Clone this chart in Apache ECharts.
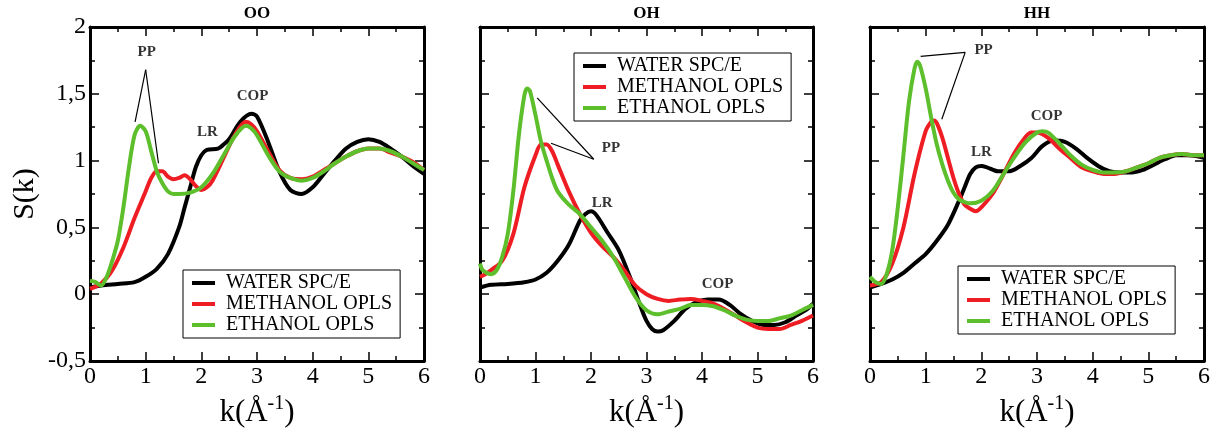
<!DOCTYPE html>
<html>
<head>
<meta charset="utf-8">
<script src="https://cdn.jsdelivr.net/npm/echarts@6/dist/echarts.min.js"></script>
<style>
  html, body { margin: 0; padding: 0; background: #fff; }
  #chart { width: 1222px; height: 436px; }
</style>
</head>
<body>
<div id="chart"></div>
<script>
// S(k) curves, [k, S(k)] pairs
const ooWater = [[0,0.05],[0.2,0.065],[0.5,0.077],[0.8,0.09],[1.0,0.13],[1.2,0.19],[1.4,0.3],[1.6,0.5],[1.7,0.65],[1.8,0.8],[1.9,0.95],[2.0,1.04],[2.1,1.08],[2.3,1.09],[2.4,1.12],[2.5,1.16],[2.7,1.29],[2.9,1.35],[3.0,1.33],[3.2,1.14],[3.4,0.92],[3.6,0.78],[3.8,0.75],[4.0,0.8],[4.2,0.9],[4.4,1.0],[4.6,1.09],[4.8,1.14],[5.0,1.16],[5.2,1.14],[5.4,1.09],[5.6,1.03],[5.8,0.96],[6.0,0.9]]
const ooMethanol = [[0,0.04],[0.2,0.08],[0.4,0.18],[0.6,0.35],[0.8,0.57],[1.0,0.77],[1.1,0.87],[1.2,0.92],[1.3,0.92],[1.4,0.88],[1.5,0.86],[1.6,0.87],[1.7,0.89],[1.8,0.86],[1.9,0.81],[2.0,0.78],[2.1,0.8],[2.2,0.85],[2.4,1.02],[2.6,1.19],[2.8,1.29],[2.9,1.27],[3.0,1.22],[3.2,1.07],[3.4,0.93],[3.6,0.87],[3.8,0.86],[4.0,0.88],[4.2,0.93],[4.4,0.98],[4.6,1.03],[4.8,1.07],[5.0,1.09],[5.2,1.09],[5.4,1.06],[5.6,1.03],[5.8,0.99],[6.0,0.93]]
const ooEthanol = [[0,0.1],[0.1,0.09],[0.2,0.065],[0.3,0.13],[0.4,0.25],[0.5,0.4],[0.6,0.65],[0.7,0.95],[0.8,1.19],[0.9,1.26],[1.0,1.22],[1.1,1.07],[1.2,0.92],[1.3,0.83],[1.4,0.77],[1.5,0.75],[1.6,0.75],[1.8,0.76],[2.0,0.8],[2.2,0.9],[2.4,1.04],[2.6,1.18],[2.8,1.26],[2.9,1.24],[3.0,1.19],[3.2,1.04],[3.4,0.92],[3.6,0.87],[3.8,0.85],[4.0,0.87],[4.2,0.92],[4.4,0.98],[4.6,1.03],[4.8,1.07],[5.0,1.09],[5.2,1.09],[5.4,1.07],[5.6,1.03],[5.8,0.98],[6.0,0.93]]

const ohWater = [[0,0.05],[0.2,0.07],[0.5,0.077],[0.8,0.09],[1.0,0.11],[1.2,0.16],[1.4,0.25],[1.6,0.37],[1.8,0.55],[1.9,0.6],[2.0,0.62],[2.1,0.59],[2.3,0.46],[2.5,0.33],[2.7,0.13],[2.9,-0.1],[3.0,-0.2],[3.1,-0.26],[3.2,-0.28],[3.3,-0.27],[3.5,-0.2],[3.7,-0.11],[3.9,-0.06],[4.1,-0.04],[4.3,-0.04],[4.5,-0.08],[4.7,-0.15],[4.9,-0.2],[5.1,-0.23],[5.3,-0.23],[5.5,-0.21],[5.7,-0.16],[5.9,-0.11],[6.0,-0.07]]
const ohMethanol = [[0,0.13],[0.1,0.15],[0.2,0.18],[0.4,0.25],[0.6,0.45],[0.8,0.8],[1.0,1.04],[1.1,1.12],[1.2,1.12],[1.3,1.07],[1.4,0.97],[1.6,0.77],[1.8,0.6],[2.0,0.46],[2.2,0.36],[2.4,0.28],[2.6,0.18],[2.8,0.065],[3.0,0.0],[3.2,-0.035],[3.4,-0.05],[3.6,-0.04],[3.8,-0.035],[4.0,-0.05],[4.2,-0.07],[4.4,-0.11],[4.6,-0.16],[4.8,-0.21],[5.0,-0.25],[5.2,-0.26],[5.4,-0.26],[5.6,-0.23],[5.8,-0.2],[6.0,-0.16]]
const ohEthanol = [[0,0.23],[0.05,0.18],[0.2,0.15],[0.3,0.18],[0.4,0.28],[0.5,0.45],[0.6,0.77],[0.7,1.19],[0.8,1.49],[0.85,1.54],[0.9,1.52],[1.0,1.34],[1.1,1.14],[1.2,1.0],[1.3,0.87],[1.4,0.77],[1.6,0.67],[1.8,0.6],[2.0,0.5],[2.2,0.4],[2.4,0.28],[2.6,0.13],[2.8,-0.02],[3.0,-0.12],[3.2,-0.15],[3.4,-0.13],[3.6,-0.11],[3.8,-0.08],[4.0,-0.08],[4.2,-0.09],[4.4,-0.12],[4.6,-0.16],[4.8,-0.19],[5.0,-0.2],[5.2,-0.2],[5.4,-0.18],[5.6,-0.16],[5.8,-0.12],[6.0,-0.08]]

const hhWater = [[0,0.05],[0.2,0.077],[0.4,0.11],[0.6,0.16],[0.8,0.23],[1.0,0.3],[1.2,0.4],[1.4,0.52],[1.6,0.7],[1.7,0.8],[1.8,0.9],[1.9,0.95],[2.0,0.96],[2.1,0.95],[2.3,0.92],[2.5,0.92],[2.7,0.96],[2.9,1.02],[3.1,1.11],[3.3,1.15],[3.5,1.14],[3.7,1.09],[3.9,1.02],[4.1,0.96],[4.3,0.92],[4.5,0.91],[4.7,0.91],[4.9,0.93],[5.1,0.97],[5.3,1.01],[5.5,1.04],[5.7,1.04],[5.9,1.03],[6.0,1.02]]
const hhMethanol = [[0,0.065],[0.2,0.09],[0.4,0.23],[0.6,0.5],[0.8,0.9],[1.0,1.22],[1.1,1.29],[1.15,1.3],[1.2,1.28],[1.3,1.17],[1.4,1.02],[1.5,0.87],[1.6,0.75],[1.7,0.67],[1.8,0.64],[1.9,0.62],[2.0,0.65],[2.2,0.75],[2.4,0.9],[2.6,1.06],[2.8,1.18],[2.9,1.21],[3.0,1.21],[3.2,1.17],[3.4,1.09],[3.6,1.02],[3.8,0.95],[4.0,0.92],[4.2,0.9],[4.4,0.9],[4.6,0.92],[4.8,0.95],[5.0,0.98],[5.2,1.02],[5.4,1.04],[5.6,1.05],[5.8,1.04],[6.0,1.04]]
const hhEthanol = [[0,0.13],[0.1,0.09],[0.2,0.077],[0.3,0.15],[0.4,0.33],[0.5,0.65],[0.6,1.04],[0.7,1.44],[0.8,1.69],[0.85,1.74],[0.9,1.71],[1.0,1.54],[1.1,1.32],[1.2,1.12],[1.3,0.97],[1.4,0.85],[1.5,0.76],[1.6,0.71],[1.7,0.69],[1.8,0.68],[2.0,0.7],[2.2,0.77],[2.4,0.9],[2.6,1.03],[2.8,1.14],[3.0,1.21],[3.1,1.22],[3.2,1.21],[3.4,1.13],[3.6,1.04],[3.8,0.97],[4.0,0.93],[4.2,0.91],[4.4,0.91],[4.6,0.92],[4.8,0.95],[5.0,0.98],[5.2,1.02],[5.4,1.04],[5.6,1.05],[5.8,1.04],[6.0,1.04]]

const panelTitles = ['OO', 'OH', 'HH']
const seriesNames = ['WATER SPC/E', 'METHANOL OPLS', 'ETHANOL OPLS']
const seriesColors = ['#000000', '#ee1d23', '#5cbf2b']
const panelData = [
  [ooWater, ooMethanol, ooEthanol],
  [ohWater, ohMethanol, ohEthanol],
  [hhWater, hhMethanol, hhEthanol]
]

// annotation labels [k, S, text] and pointer lines [[k1,S1],[k2,S2]]
const ooLabels = [[1.02, 1.81, 'PP'], [2.11, 1.21, 'LR'], [2.92, 1.48, 'COP']]
const ohLabels = [[2.36, 1.09, 'PP'], [2.2, 0.68, 'LR'], [4.28, 0.077, 'COP']]
const hhLabels = [[2.04, 1.83, 'PP'], [2.0, 1.06, 'LR'], [3.17, 1.33, 'COP']]
const ooPointers = [[[1.0, 1.68], [0.81, 1.29]], [[1.0, 1.68], [1.23, 0.98]]]
const ohPointers = [[[2.05, 1.01], [1.03, 1.47]], [[2.05, 1.01], [1.28, 1.13]]]
const hhPointers = [[[1.71, 1.81], [0.91, 1.78]], [[1.71, 1.81], [1.29, 1.31]]]
const panelLabels = [ooLabels, ohLabels, hhLabels]
const panelPointers = [ooPointers, ohPointers, hhPointers]

const grids = [
  { left: 90, top: 25, width: 334, height: 336 },
  { left: 480, top: 25, width: 333, height: 336 },
  { left: 870, top: 25, width: 334, height: 336 }
]
const legendPos = [
  { left: 183, top: 270 },
  { left: 574, top: 53 },
  { left: 958, top: 266 }
]

const serif = '"Liberation Serif", "DejaVu Serif", serif'
const frame = { show: true, onZero: false, lineStyle: { color: '#000', width: 3 } }

const xAxis = []
const yAxis = []
const series = []
const legend = []

grids.forEach((g, i) => {
  const tick = { show: true, inside: true, length: 9, lineStyle: { color: '#000', width: 1.5 } }
  const minor = { show: true, splitNumber: 2, length: 5, lineStyle: { color: '#000', width: 1.5 } }
  xAxis.push({
    type: 'value', gridIndex: i, min: 0, max: 6, interval: 1, position: 'bottom',
    axisLine: frame, axisTick: tick, minorTick: minor, splitLine: { show: false },
    axisLabel: { color: '#000', fontFamily: serif, fontSize: 24, margin: 4 },
    name: 'k(Å{sup|-1})', nameLocation: 'middle', nameGap: 33,
    nameTextStyle: {
      color: '#000', fontFamily: serif, fontSize: 31,
      rich: { sup: { fontFamily: serif, fontSize: 20, color: '#000', padding: [0, 0, 17, 0] } }
    }
  })
  xAxis.push({
    type: 'value', gridIndex: i, min: 0, max: 6, interval: 1, position: 'top',
    axisLine: frame, axisTick: tick, minorTick: minor, splitLine: { show: false },
    axisLabel: { show: false },
    name: panelTitles[i], nameLocation: 'middle', nameGap: 5,
    nameTextStyle: { color: '#000', fontFamily: serif, fontSize: 17, fontWeight: 'bold', verticalAlign: 'bottom' }
  })
  yAxis.push({
    type: 'value', gridIndex: i, min: -0.5, max: 2, interval: 0.5, position: 'left',
    axisLine: frame, axisTick: tick, minorTick: minor, splitLine: { show: false },
    axisLabel: {
      show: i === 0, color: '#000', fontFamily: serif, fontSize: 24, margin: 4,
      formatter: v => String(v).replace('.', ',')
    },
    name: i === 0 ? 'S(k)' : '', nameLocation: 'middle', nameGap: 50,
    nameTextStyle: { color: '#000', fontFamily: serif, fontSize: 30 }
  })
  yAxis.push({
    type: 'value', gridIndex: i, min: -0.5, max: 2, interval: 0.5, position: 'right',
    axisLine: frame, axisTick: tick, minorTick: minor, splitLine: { show: false },
    axisLabel: { show: false }
  })

  panelData[i].forEach((d, j) => {
    series.push({
      type: 'line', name: seriesNames[j], data: d,
      xAxisIndex: i * 2, yAxisIndex: i * 2,
      smooth: 0.3, showSymbol: false, symbol: 'none',
      color: seriesColors[j], lineStyle: { color: seriesColors[j], width: 4 },
      silent: true, animation: false
    })
  })

  series.push({
    type: 'scatter', name: 'labels' + i, xAxisIndex: i * 2, yAxisIndex: i * 2,
    symbolSize: 0, silent: true, animation: false,
    data: panelLabels[i].map(l => ({ value: [l[0], l[1]], name: l[2] })),
    label: {
      show: true, position: 'inside', formatter: p => p.name,
      color: '#000', fontFamily: serif, fontSize: 15, fontWeight: 'bold'
    },
    markLine: {
      silent: true, symbol: 'none', animation: false,
      label: { show: false },
      lineStyle: { color: '#000', width: 1.2, type: 'solid' },
      data: panelPointers[i].map(p => [{ coord: p[0] }, { coord: p[1] }])
    }
  })

  legend.push({
    left: legendPos[i].left, top: legendPos[i].top, orient: 'vertical',
    data: seriesNames, icon: 'rect', itemWidth: 23, itemHeight: 4, itemGap: 1,
    backgroundColor: '#fff', borderColor: '#000', borderWidth: 1,
    padding: [3, 8, 3, 9], selectedMode: false,
    textStyle: { color: '#000', fontFamily: serif, fontSize: 20, padding: [0, 0, 0, 6] }
  })
})

const chart = echarts.init(document.getElementById('chart'))
chart.setOption({
  backgroundColor: '#fff',
  animation: false,
  grid: grids,
  xAxis: xAxis,
  yAxis: yAxis,
  legend: legend,
  series: series
})
</script>
</body>
</html>
